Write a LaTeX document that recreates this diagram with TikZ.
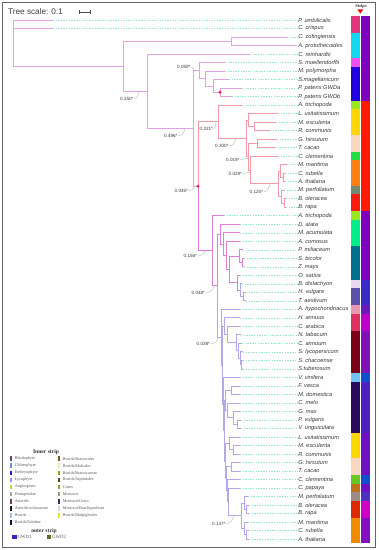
\documentclass[tikz,border=0pt]{standalone}
\usepackage{fontspec}
\setmainfont{Liberation Sans}
\newfontfamily\seriffont{Liberation Serif}
\usetikzlibrary{calc}
\definecolor{cTop}{HTML}{E4A2E6}
\definecolor{cRed}{HTML}{F29AA6}
\definecolor{cMag}{HTML}{DE80DA}
\definecolor{cPur}{HTML}{B6A6EE}
\definecolor{cDash}{HTML}{96E8C8}
\definecolor{cLab}{HTML}{3A3A3A}
\definecolor{cDot}{HTML}{E0204A}
\newcommand\mk[4]{\path let \p1=($(#3)!.5!(#4)$) in coordinate (#1) at (#2pt,\y1);}
\newcommand\leaf[3]{%
  \coordinate (t#1) at (#2,{20+(#1-1)*8.51});
  \node[leaflab] (l#1) at (297.5,{20+(#1-1)*8.51}) {#3};
  \draw[leader] (t#1) -- (l#1.west);}
\newcommand\strip[4]{\fill[fill=#4] (#1,{20+(#2-1)*8.51-4.255}) rectangle ({#1+9.4},{20+(#3-1)*8.51+4.255});}
\newcommand\legitem[5]{%
  \fill[fill=#4] (#2,{#3-2.3}) rectangle ({#2+2.2},{#3+2.3});
  \node[legtxt] (#1) at ({#2+4.6},#3) {#5};}
\tikzset{
  brtop/.style={draw=cTop, line width=0.8pt},
  brred/.style={draw=cRed, line width=0.8pt},
  brmag/.style={draw=cMag, line width=0.8pt},
  brpur/.style={draw=cPur, line width=0.8pt},
  leader/.style={draw=cDash, line width=0.5pt, dash pattern=on 1.3pt off 1.3pt},
  leaflab/.style={anchor=west, inner sep=0.6pt, font=\fontsize{5.7}{6}\selectfont\itshape, text=cLab},
  bs/.style={anchor=east, inner sep=0.3pt, font=\fontsize{4.6}{5}\selectfont, text=cLab},
  lead/.style={draw=gray!65, line width=0.3pt},
  legtxt/.style={anchor=west, inner sep=0pt, font=\seriffont\fontsize{4.2}{5}\selectfont, text=black!65},
  legtitle/.style={inner sep=0pt, font=\seriffont\bfseries\fontsize{5.6}{6}\selectfont, text=black!80},
}
\begin{document}
\begin{tikzpicture}[x=1pt,y=-1pt]
\useasboundingbox (0,0) rectangle (379,550);
\fill[white] (0,0) rectangle (379,550);
\draw[gray!80!black, line width=0.8pt] (2,2) rectangle (375.5,547.5);
% title and scale
\node[anchor=west, inner sep=0pt, font=\fontsize{8.2}{9}\selectfont, text=black!75] (title) at (8,12) {Tree scale: 0.1};
\coordinate (sb1) at (79,12); \coordinate (sb2) at (90,12);
\draw[black!70, line width=0.6pt] (sb1) -- (sb2);
\draw[black!70, line width=0.6pt] ($(sb1)+(0,-1.6)$) -- ($(sb1)+(0,1.6)$);
\draw[black!70, line width=0.6pt] ($(sb2)+(0,-1.6)$) -- ($(sb2)+(0,1.6)$);
% strips header
\node[inner sep=0pt, font=\seriffont\bfseries\fontsize{4.5}{5}\selectfont, text=black!80] (striplab) at (361,6) {Strips};
\fill[red] (357.3,9.3) -- (363.3,9.3) -- (360.3,13.6) -- cycle;
% leaves
\leaf{1}{53}{P. umbilicalis}
\leaf{2}{53}{C. crispus}
\leaf{3}{287}{C. zofingiensis}
\leaf{4}{296}{A. protothecoides}
\leaf{5}{250}{C. reinhardtii}
\leaf{6}{225}{S. moellendorffii}
\leaf{7}{225}{M. polymorpha}
\leaf{8}{229}{S.magellanicum}
\leaf{9}{242}{P. patens GWDa}
\leaf{10}{232}{P. patens GWDb}
\leaf{11}{242}{A. trichopoda}
\leaf{12}{278}{L. usitatissimum}
\leaf{13}{276}{M. esculenta}
\leaf{14}{270}{R. communis}
\leaf{15}{277}{G. hirsutum}
\leaf{16}{275}{T. cacao}
\leaf{17}{278}{C. clementina}
\leaf{18}{287}{M. maritima}
\leaf{19}{285}{C. rubella}
\leaf{20}{285}{A. thaliana}
\leaf{21}{284}{M. perfoliatum}
\leaf{22}{286}{B. oleracea}
\leaf{23}{286}{B. rapa}
\leaf{24}{224}{A. trichopoda}
\leaf{25}{240}{D. alata}
\leaf{26}{240}{M. acumulata}
\leaf{27}{240}{A. comosus}
\leaf{28}{243}{P. miliaceum}
\leaf{29}{244}{S. bicolor}
\leaf{30}{244}{Z. mays}
\leaf{31}{240}{O. sativa}
\leaf{32}{242}{B. distachyon}
\leaf{33}{246}{H. vulgare}
\leaf{34}{246}{T. aestivum}
\leaf{35}{240}{A. hypochondriacus}
\leaf{36}{240}{H. annuus}
\leaf{37}{240}{C. arabica}
\leaf{38}{241}{N. tabacum}
\leaf{39}{242}{C. annuum}
\leaf{40}{243}{S. lycopersicum}
\leaf{41}{243}{S. chacoense}
\leaf{42}{243}{S.tuberosum}
\leaf{43}{240}{V. vinifera}
\leaf{44}{240}{F. vesca}
\leaf{45}{240}{M. domestica}
\leaf{46}{240}{C. melo}
\leaf{47}{240}{G. max}
\leaf{48}{241}{P. vulgaris}
\leaf{49}{241}{V. unguiculata}
\leaf{50}{240}{L. usitatissimum}
\leaf{51}{240}{M. esculenta}
\leaf{52}{240}{R. communis}
\leaf{53}{240}{G. hirsutum}
\leaf{54}{240}{T. cacao}
\leaf{55}{240}{C. clementina}
\leaf{56}{240}{C. papaya}
\leaf{57}{248}{M. perfoliatum}
\leaf{58}{249}{B. oleracea}
\leaf{59}{249}{B. rapa}
\leaf{60}{248}{M. maritima}
\leaf{61}{249}{C. rubella}
\leaf{62}{249}{A. thaliana}
% internal nodes
\mk{Chl}{231}{t3}{t4}
\mk{E}{220}{t9}{t10}
\mk{D}{213}{t8}{E}
\mk{C}{205}{t7}{D}
\mk{B}{199}{t6}{C}
\mk{J2}{254}{t13}{t14}
\mk{J}{248}{t12}{J2}
\mk{K}{257}{t15}{t16}
\mk{B1a}{283}{t19}{t20}
\mk{B1}{280.5}{t18}{B1a}
\mk{B2a}{284}{t22}{t23}
\mk{B2}{281}{t21}{B2a}
\mk{Bs}{278}{B1}{B2}
\mk{R3}{250}{t17}{Bs}
\mk{R2}{248}{K}{R3}
\mk{R1}{246}{J}{R2}
\mk{R0}{218}{t11}{R1}
\mk{P2}{242}{t29}{t30}
\mk{P1}{239}{t28}{P2}
\mk{O3}{243}{t33}{t34}
\mk{O2}{240}{t32}{O3}
\mk{O1}{237}{t31}{O2}
\mk{Mo3}{229}{P1}{O1}
\mk{Mo2}{226}{t27}{Mo3}
\mk{Mo1}{223}{t26}{Mo2}
\mk{Mo0}{220}{t25}{Mo1}
\mk{S4}{241}{t41}{t42}
\mk{S3}{240}{t40}{S4}
\mk{S2}{238.5}{t39}{S3}
\mk{S1}{236}{t38}{S2}
\mk{A2}{227}{t37}{S1}
\mk{A1}{224}{t36}{A2}
\mk{Ros}{231}{t44}{t45}
\mk{F3}{237}{t48}{t49}
\mk{F2}{233}{t47}{F3}
\mk{Fab2}{227}{t46}{F2}
\mk{Fab}{225.5}{Ros}{Fab2}
\mk{Mp2}{233}{t51}{t52}
\mk{Mp}{229}{t50}{Mp2}
\mk{Mv}{231}{t53}{t54}
\mk{X1a}{246}{t58}{t59}
\mk{X1}{244}{t57}{X1a}
\mk{X2a}{246}{t61}{t62}
\mk{X2}{244}{t60}{X2a}
\mk{Bz}{241}{X1}{X2}
\mk{Mal4}{228}{t56}{Bz}
\mk{Mal3}{227}{t55}{Mal4}
\mk{Mal2}{226}{Mv}{Mal3}
\mk{Mal}{225}{Mp}{Mal2}
\mk{Ro}{224}{Fab}{Mal}
\mk{E2}{223}{t43}{Ro}
\mk{E1}{222}{A1}{E2}
\mk{E0}{221}{t35}{E1}
\mk{H1}{217}{Mo0}{E0}
\mk{H}{212}{t24}{H1}
\mk{G}{198}{R0}{H}
\mk{F}{193}{B}{G}
\mk{Xr}{147}{t5}{F}
\mk{A}{123}{Chl}{Xr}
\mk{root}{13}{t1}{A}
% branches
\foreach \p/\c in {root/t1,root/t2,root/A,A/Chl,Chl/t3,Chl/t4,A/Xr,Xr/t5,Xr/F,F/B,B/t6,B/C,C/t7,C/D,D/t8,D/E,E/t9,E/t10,F/G}
  \draw[brtop] (\p) |- (\c);
\foreach \p/\c in {G/R0,R0/t11,R0/R1,R1/J,J/t12,J/J2,J2/t13,J2/t14,R1/R2,R2/K,K/t15,K/t16,R2/R3,R3/t17,R3/Bs,Bs/B1,B1/t18,B1/B1a,B1a/t19,B1a/t20,Bs/B2,B2/t21,B2/B2a,B2a/t22,B2a/t23}
  \draw[brred] (\p) |- (\c);
\foreach \p/\c in {G/H,H/t24,H/H1,H1/Mo0,Mo0/t25,Mo0/Mo1,Mo1/t26,Mo1/Mo2,Mo2/t27,Mo2/Mo3,Mo3/P1,P1/t28,P1/P2,P2/t29,P2/t30,Mo3/O1,O1/t31,O1/O2}
  \draw[brmag] (\p) |- (\c);
\foreach \p/\c in {O2/t32,O2/O3,O3/t33,O3/t34,H1/E0,E0/t35,E0/E1,E1/A1,A1/t36,A1/A2,A2/t37,A2/S1,S1/t38,S1/S2,S2/t39,S2/S3,S3/t40,S3/S4,S4/t41,S4/t42,E1/E2,E2/t43,E2/Ro,Ro/Fab,Fab/Ros,Ros/t44,Ros/t45,Fab/Fab2,Fab2/t46,Fab2/F2,F2/t47,F2/F3,F3/t48,F3/t49,Ro/Mal,Mal/Mp,Mp/t50,Mp/Mp2,Mp2/t51,Mp2/t52,Mal/Mal2,Mal2/Mv,Mv/t53,Mv/t54,Mal2/Mal3,Mal3/t55,Mal3/Mal4,Mal4/t56,Mal4/Bz,Bz/X1,X1/t57,X1/X1a,X1a/t58,X1a/t59,Bz/X2,X2/t60,X2/X2a,X2a/t61,X2a/t62}
  \draw[brpur] (\p) |- (\c);
\fill[cDot] (E) circle (1.6);
\fill[cDot] (G) circle (1.6);
% support labels
\node[bs] (b250) at (134,98.5) {0.250*};
\draw[lead] (b250.east) to[out=0,in=-100] ($(Xr)+(-8,0)$);
\node[bs] (b059) at (191,67) {0.059*};
\draw[lead] (b059.east) to[out=0,in=-120] ($(B)+(-3,0)$);
\node[bs] (b496) at (178,136) {0.496*};
\draw[lead] (b496.east) to[out=0,in=-100] ($(F)+(-8,0)$);
\node[bs] (b221) at (213.5,128.5) {0.221*};
\draw[lead] (b221.east) to[out=0,in=-110] ($(R0)+(-2,0)$);
\node[bs] (b300) at (229,146) {0.300*};
\draw[lead] (b300.east) to[out=0,in=-110] ($(R1)+(-10,0)$);
\node[bs] (b019) at (240,160) {0.019*};
\draw[lead] (b019.east) to[out=0,in=180] ($(R2)+(0,1.5)$);
\node[bs] (b029) at (242.5,174) {0.029*};
\draw[lead] (b029.east) to[out=0,in=180] ($(R3)+(0,2)$);
\node[bs] (b125) at (263.5,192) {0.125*};
\draw[lead] (b125.east) to[out=0,in=-110] ($(Bs)+(-8,0)$);
\node[bs] (b045) at (188.5,191) {0.045*};
\draw[lead] (b045.east) to[out=0,in=-120] ($(G)+(-3,0)$);
\node[bs] (b156) at (197.5,256) {0.156*};
\draw[lead] (b156.east) to[out=0,in=-110] ($(H)+(-7,0)$);
\node[bs] (b048) at (205.5,293) {0.048*};
\draw[lead] (b048.east) to[out=0,in=-120] ($(H1)+(-2.5,0)$);
\node[bs] (b038) at (210.5,344) {0.038*};
\draw[lead] (b038.east) to[out=0,in=-120] ($(E0)+(-2,0)$);
\node[bs] (b137) at (226,524) {0.137*};
\draw[lead] (b137.east) to[out=0,in=-110] ($(Bz)+(-7,0)$);
% inner strip
\strip{351}{1}{2}{{rgb,255:red,226;green,54;blue,124}}
\strip{351}{3}{5}{{rgb,255:red,16;green,216;blue,240}}
\strip{351}{6}{6}{{rgb,255:red,240;green,80;blue,240}}
\strip{351}{7}{10}{{rgb,255:red,32;green,0;blue,224}}
\strip{351}{11}{11}{{rgb,255:red,153;green,230;blue,34}}
\strip{351}{12}{14}{{rgb,255:red,255;green,215;blue,0}}
\strip{351}{15}{16}{{rgb,255:red,250;green,213;blue,192}}
\strip{351}{17}{17}{{rgb,255:red,34;green,221;blue,68}}
\strip{351}{18}{20}{{rgb,255:red,255;green,127;blue,16}}
\strip{351}{21}{21}{{rgb,255:red,111;green,138;blue,112}}
\strip{351}{22}{23}{{rgb,255:red,255;green,26;blue,16}}
\strip{351}{24}{24}{{rgb,255:red,153;green,230;blue,34}}
\strip{351}{25}{27}{{rgb,255:red,0;green,238;blue,136}}
\strip{351}{28}{31}{{rgb,255:red,0;green,112;blue,144}}
\strip{351}{32}{32}{{rgb,255:red,232;green,216;blue,242}}
\strip{351}{33}{34}{{rgb,255:red,90;green,80;blue,168}}
\strip{351}{35}{35}{{rgb,255:red,232;green,152;blue,176}}
\strip{351}{36}{37}{{rgb,255:red,224;green,48;blue,96}}
\strip{351}{38}{42}{{rgb,255:red,122;green,0;blue,24}}
\strip{351}{43}{43}{{rgb,255:red,112;green,198;blue,242}}
\strip{351}{44}{49}{{rgb,255:red,42;green,10;blue,94}}
\strip{351}{50}{52}{{rgb,255:red,255;green,215;blue,0}}
\strip{351}{53}{54}{{rgb,255:red,250;green,213;blue,192}}
\strip{351}{55}{55}{{rgb,255:red,102;green,200;blue,34}}
\strip{351}{56}{56}{{rgb,255:red,192;green,112;blue,24}}
\strip{351}{57}{57}{{rgb,255:red,160;green,138;blue,136}}
\strip{351}{58}{59}{{rgb,255:red,224;green,40;blue,0}}
\strip{351}{60}{62}{{rgb,255:red,240;green,138;blue,0}}
% outer strip
\strip{361}{1}{10}{{rgb,255:red,128;green,0;blue,192}}
\strip{361}{11}{23}{{rgb,255:red,255;green,26;blue,0}}
\strip{361}{24}{31}{{rgb,255:red,128;green,0;blue,192}}
\strip{361}{32}{34}{{rgb,255:red,58;green,42;blue,200}}
\strip{361}{35}{35}{{rgb,255:red,106;green,26;blue,184}}
\strip{361}{36}{37}{{rgb,255:red,192;green,0;blue,200}}
\strip{361}{38}{42}{{rgb,255:red,128;green,16;blue,184}}
\strip{361}{43}{43}{{rgb,255:red,16;green,80;blue,208}}
\strip{361}{44}{49}{{rgb,255:red,80;green,32;blue,192}}
\strip{361}{50}{54}{{rgb,255:red,112;green,16;blue,192}}
\strip{361}{55}{55}{{rgb,255:red,16;green,80;blue,208}}
\strip{361}{56}{56}{{rgb,255:red,112;green,16;blue,192}}
\strip{361}{57}{57}{{rgb,255:red,80;green,48;blue,192}}
\strip{361}{58}{59}{{rgb,255:red,208;green,0;blue,200}}
\strip{361}{60}{62}{{rgb,255:red,128;green,16;blue,192}}
% legend
\node[legtitle] (lgin) at (46,452.5) {Inner strip};
\legitem{li1}{10}{458.6}{{rgb,255:red,106;green,74;blue,106}}{Rhodophyte}
\legitem{li2}{10}{465.7}{{rgb,255:red,112;green,144;blue,224}}{Chlorophyte}
\legitem{li3}{10}{472.8}{{rgb,255:red,32;green,32;blue,192}}{Embryophyte}
\legitem{li4}{10}{479.9}{{rgb,255:red,160;green,144;blue,224}}{Lycophyte}
\legitem{li5}{10}{487.0}{{rgb,255:red,200;green,208;blue,64}}{Angiosperm}
\legitem{li6}{10}{494.1}{{rgb,255:red,176;green,160;blue,160}}{Pentapetalae}
\legitem{li7}{10}{501.2}{{rgb,255:red,112;green,64;blue,80}}{Asterids}
\legitem{li8}{10}{508.3}{{rgb,255:red,32;green,16;blue,16}}{Asterids/solanaceae}
\legitem{li9}{10}{515.4}{{rgb,255:red,160;green,192;blue,224}}{Rosids}
\legitem{li10}{10}{522.5}{{rgb,255:red,16;green,16;blue,64}}{Rosids/Fabidae}
\legitem{lj1}{58}{458.6}{{rgb,255:red,106;green,90;blue,32}}{Rosids/Brassicales}
\legitem{lj2}{58}{465.7}{{rgb,255:red,232;green,232;blue,192}}{Rosids/Malvales}
\legitem{lj3}{58}{472.8}{{rgb,255:red,160;green,160;blue,32}}{Rosids/Brassicaceae}
\legitem{lj4}{58}{479.9}{{rgb,255:red,80;green,80;blue,32}}{Rosids/Sapindales}
\legitem{lj5}{58}{487.0}{{rgb,255:red,138;green,160;blue,64}}{Citrus}
\legitem{lj6}{58}{494.1}{{rgb,255:red,144;green,160;blue,128}}{Monocot}
\legitem{lj7}{58}{501.2}{{rgb,255:red,48;green,48;blue,96}}{Monocot/Grass}
\legitem{lj8}{58}{508.3}{{rgb,255:red,208;green,216;blue,232}}{Monocot/Brachypodium}
\legitem{lj9}{58}{515.4}{{rgb,255:red,232;green,224;blue,48}}{Rosids/Malpighiales}
\node[legtitle] (lgout) at (44,531) {outer strip};
\fill[fill={rgb,255:red,64;green,32;blue,192}] (12,534.8) rectangle (16.6,539.4);
\node[legtxt, font=\seriffont\fontsize{4.8}{5}\selectfont] (lg1) at (17.4,537.1) {GWD1};
\fill[fill={rgb,255:red,106;green,106;blue,32}] (46.5,534.8) rectangle (51.1,539.4);
\node[legtxt, font=\seriffont\fontsize{4.8}{5}\selectfont] (lg2) at (51.9,537.1) {GWD2};
\end{tikzpicture}
\end{document}
